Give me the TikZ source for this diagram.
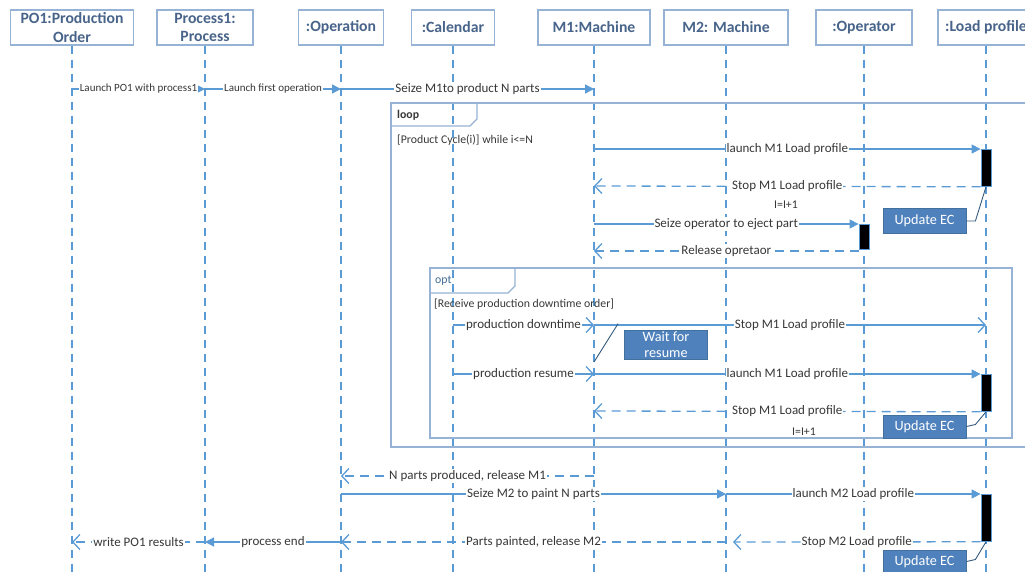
\documentclass[tikz,border=0pt]{standalone}
\usepackage{fontspec}
\setmainfont{Carlito}
\usetikzlibrary{arrows.meta,positioning,calc}

\definecolor{msgblue}{RGB}{91,155,213}
\definecolor{hdrtext}{RGB}{72,100,138}
\definecolor{hdrline}{RGB}{150,178,212}
\definecolor{notefill}{RGB}{79,129,189}
\definecolor{noteline}{RGB}{65,113,156}
\definecolor{msgtext}{RGB}{55,55,55}

\newcommand{\hdrfont}{\fontsize{15.7}{18.5}\selectfont\bfseries}
\newcommand{\msgfont}{\fontsize{13}{15}\selectfont}
\newcommand{\smlfont}{\fontsize{11}{13}\selectfont}
\newcommand{\grdfont}{\fontsize{11.8}{14}\selectfont}
\newcommand{\notefont}{\fontsize{14.2}{16}\selectfont}

\begin{document}
\begin{tikzpicture}[x=1pt,y=-1pt,
   obj/.style={draw=hdrline,line width=1.3pt,fill=white,text=hdrtext,font=\hdrfont,
               align=center,inner sep=1pt,minimum height=35pt},
   life/.style={draw=msgblue,line width=1.3pt,dash pattern=on 8pt off 6pt},
   msg/.style={draw=msgblue,line width=1.3pt,-{Triangle[length=9pt,width=9pt]}},
   call/.style={draw=msgblue,line width=1.3pt,-{Straight Barb[length=7pt,width=15pt]}},
   ret/.style={call,dash pattern=on 9pt off 6pt},
   lbl/.style={fill=white,text=msgtext,font=\msgfont,inner sep=1pt},
   slbl/.style={lbl,font=\smlfont},
   actbar/.style={fill=black,draw=msgblue,line width=0.8pt,minimum width=10pt,inner sep=0pt},
   frame/.style={draw=hdrline,line width=1.2pt},
   note/.style={fill=notefill,draw=noteline,line width=0.8pt,text=white,font=\notefont,
                align=center,inner sep=1pt,minimum width=83pt},
   noteln/.style={draw=noteline!80!black,line width=0.9pt}]

\useasboundingbox (0,0) rectangle (1025,571);

% objects
\node[obj,minimum width=123pt] (po)    at (72,27.5)  {PO1:Production\\Order};
\node[obj,minimum width=96pt]  (pr)    at (205,27.5) {Process1:\\Process};
\node[obj,minimum width=85pt]  (op)    at (341,27.5) {:Operation};
\node[obj,minimum width=83pt]  (cal)   at (453,27.5) {:Calendar};
\node[obj,minimum width=112pt] (mone)  at (594,27.5) {M1:Machine};
\node[obj,minimum width=124pt] (mtwo)  at (726,27.5) {M2: Machine};
\node[obj,minimum width=96pt]  (opr)   at (864,27.5) {:Operator};
\node[obj,minimum width=96pt]  (lp)    at (986,27.5) {:Load profile};

\path (0,575) coordinate (bot);
\foreach \o in {po,pr,op,cal,mone,mtwo,opr,lp}
   \draw[life] (\o.south) -- (\o.south |- bot);

% rows
\path (0,89)  coordinate (r1)  (0,149) coordinate (r2)  (0,186) coordinate (r3)
      (0,224) coordinate (r4)  (0,251) coordinate (r5)  (0,325) coordinate (r6)
      (0,374) coordinate (r7)  (0,411) coordinate (r8)  (0,476) coordinate (r9)
      (0,494) coordinate (r10) (0,542) coordinate (r11);

% activations
\node[actbar,minimum height=37pt,anchor=north] (lb1) at (lp.south |- r2)  {};
\node[actbar,minimum height=25pt,anchor=north] (ob)  at (opr.south |- r4) {};
\node[actbar,minimum height=37pt,anchor=north] (lb2) at (lp.south |- r7)  {};
\node[actbar,minimum height=47pt,anchor=north] (lb3) at (lp.south |- r10) {};

% frames
\draw[frame] (391,103) rectangle (1040,447);
\draw[frame] (391,126) -- (470,126) -- (477,119) -- (477,103);
\node[anchor=west,font=\grdfont\bfseries,text=msgtext,inner sep=0pt] (loop) at (397,115) {loop};
\node[anchor=west,font=\grdfont,text=msgtext,inner sep=0pt] (grd1) at (397,140) {[Product Cycle(i)] while i<=N};

\draw[frame] (430,268) rectangle (1012,438);
\draw[frame] (430,293) -- (508,293) -- (515,286) -- (515,268);
\node[anchor=west,font=\grdfont,text=msgblue!70!black,inner sep=0pt] (opt) at (435,281) {opt};
\node[anchor=west,font=\grdfont,text=msgtext,inner sep=0pt] (grd2) at (434,304) {[Receive production downtime order]};

% messages
\draw[msg] (po |- r1) -- node[slbl] {Launch PO1 with process1} (pr |- r1);
\draw[msg] (pr |- r1) -- node[slbl] {Launch first operation} (op |- r1);
\draw[msg] (op |- r1) -- node[lbl] {Seize M1to product N parts} (mone |- r1);

\draw[msg] (mone |- r2) -- node[lbl] {launch M1 Load profile} (lb1.west |- r2);
\draw[ret] (lb1.south west) -- node[lbl] {Stop M1 Load profile} (mone |- r3);
\node[slbl,font=\grdfont] (inc1) at (786,205) {I=I+1};
\draw[msg] (mone |- r4) -- node[lbl] {Seize operator to eject part} (ob.west |- r4);
\draw[ret] (ob.west |- r5) -- node[lbl] {Release opretaor} (mone |- r5);

\draw[call] (cal |- r6) -- node[lbl] {production downtime} (mone |- r6);
\draw[call] (mone |- r6) -- node[lbl] {Stop M1 Load profile} (lp |- r6);
\draw[call] (cal |- r7) -- node[lbl] {production resume} (mone |- r7);
\draw[msg] (mone |- r7) -- node[lbl] {launch M1 Load profile} (lb2.west |- r7);
\draw[ret] (lb2.south west) -- node[lbl] {Stop M1 Load profile} (mone |- r8);
\node[slbl,font=\grdfont] (inc2) at (804,432) {I=I+1};

\draw[ret] (mone |- r9) -- node[lbl] {N parts produced, release M1} (op |- r9);
\draw[msg] (op |- r10) -- node[lbl] {Seize M2 to paint N parts} (mtwo |- r10);
\draw[msg] (mtwo |- r10) -- node[lbl] {launch M2 Load profile} (lb3.west |- r10);
\draw[ret] (lb3.south west) -- node[lbl] {Stop M2 Load profile} ($(mtwo |- r11)+(7,0)$);
\draw[ret] (mtwo |- r11) -- node[lbl] {Parts painted, release M2} (op |- r11);
\draw[msg] (op |- r11) -- node[lbl] {process end} (pr |- r11);
\draw[ret] (pr |- r11) -- node[lbl] {write PO1 results} (po |- r11);

% notes
\node[note,minimum height=25pt] (ec1) at (924.5,221) {Update EC};
\draw[noteln] (ec1.east) -- ++(9,0) -- (lb1.south);
\node[note,minimum height=29pt] (wait) at (666,344.5) {Wait for\\resume};
\path (mone |- 0,362) coordinate (wt);
\draw[noteln] ($(wait.north west)+(-6,-6)$) -- (wt);
\node[note,minimum height=23pt] (ec2) at (924.5,426.5) {Update EC};
\draw[noteln] (ec2.east) -- ++(9,-2) -- (lb2.south);
\node[note,minimum height=23pt] (ec3) at (924.5,561.5) {Update EC};
\draw[noteln] (ec3.east) -- ++(9,-2) -- (lb3.south);
\end{tikzpicture}
\end{document}
